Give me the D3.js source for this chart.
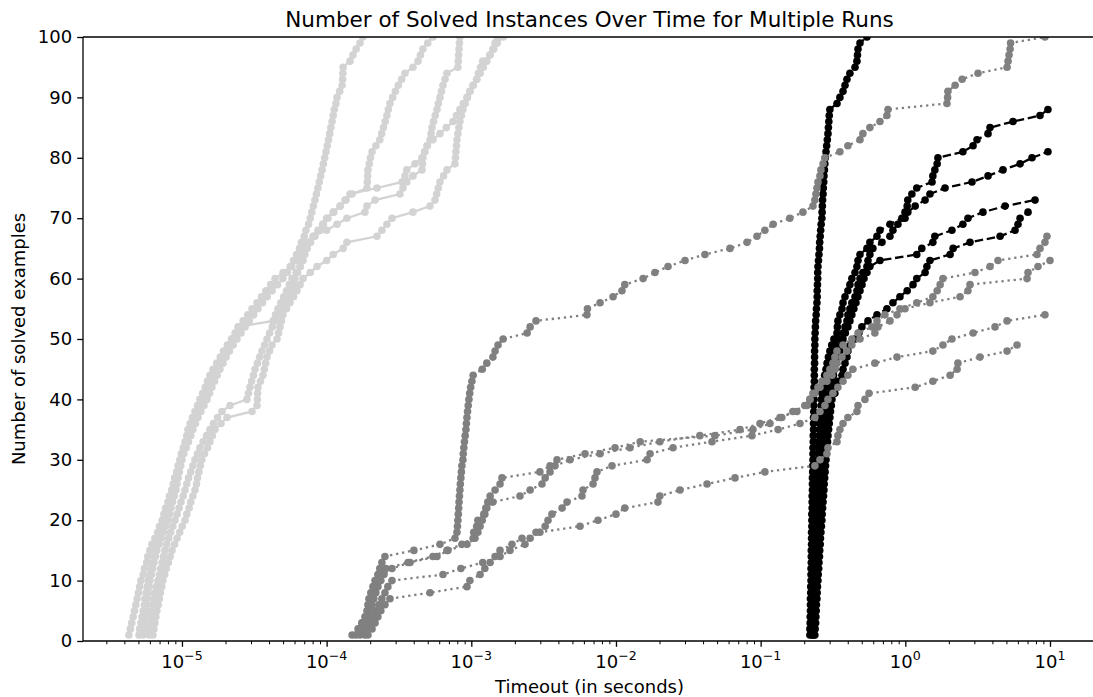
<!DOCTYPE html>
<html>
<head>
<meta charset="utf-8">
<script src="https://cdn.jsdelivr.net/npm/d3@7"></script>
<style>
body { margin: 0; background: #fff; }
svg { display: block; }
text { font-family: "DejaVu Sans", sans-serif; fill: #000; }
</style>
</head>
<body>
<div id="chart"></div>
<script>
// Solve times for each run; the n-th entry is the time at which n instances were solved.
// Light grey runs (microseconds)
var lightRun1 = [4.3,4.4,4.5,4.6,4.7,4.8,4.9,5.0,5.1,5.2,
  5.4,5.5,5.7,5.8,6.0,6.2,6.5,6.8,7.0,7.3,
  7.5,7.7,8.0,8.2,8.5,8.7,8.9,9.2,9.4,9.7,
  9.9,10.2,10.5,10.8,11.0,11.4,11.8,12.3,12.8,13.3,
  13.9,14.5,15.0,15.6,16.4,17.4,18.4,19.4,20.6,22,
  23.5,25,26.5,28.5,30.5,33,35.5,38,41,44,
  50,56,59,62,65,67,70,72,75,77,
  79,81,83,85,87,89,91,93,95,97,
  99,101,103,105,107,109,111,113,116,118,
  123,128,129,129.5,130,145,152,160,170,178];
var lightRun2 = [5.05,5.1,5.2,5.3,5.4,5.5,5.55,5.65,5.75,5.85,
  6.0,6.15,6.3,6.45,6.6,6.8,7.0,7.2,7.4,7.6,
  7.8,8.0,8.2,8.45,8.7,8.9,9.1,9.3,9.5,9.7,
  10,10.3,10.7,11,11.4,11.9,12.4,12.9,13.4,14,
  14.6,15.2,15.8,16.5,17.2,18,18.9,19.9,21,22.2,
  23.3,24.4,42.6,44.3,46.1,48.2,50.5,52.8,55.2,57.6,
  61.5,65.4,68,70.6,73.3,77.5,82,87.2,94,102,
  112,124,136,150,190,191,192,193,197,201,
  206,219,233,240,247,254,261,267,274,286,
  299,313,330,348,395,428,445,463,500,543];
var lightRun3 = [5.38,5.45,5.5,5.57,5.64,5.7,5.77,5.85,5.93,6.01,
  6.15,6.28,6.42,6.56,6.71,6.95,7.2,7.45,7.7,8.0,
  8.2,8.4,8.6,8.85,9.1,9.25,9.4,9.6,9.8,10,
  10.3,10.7,11.1,11.5,11.9,12.4,12.9,13.5,14.2,14.9,
  15.5,16.1,16.8,17.5,18.3,19.2,20.2,21.3,22.6,24,
  25.6,27.3,29.2,31.3,33.5,36,38.8,42,45.8,49.9,
  53.5,57.5,61.8,66.2,70.8,76.8,83,90,95,100,
  111,124,134,145,223,332,348,358,408,456,
  475,497,518,527,535,548,563,579,592,607,
  622,637,658,679,808,812,817,822,828,834];
var lightRun4 = [5.92,5.98,6.05,6.12,6.2,6.3,6.4,6.5,6.65,6.83,
  6.98,7.13,7.3,7.45,7.63,7.85,8.1,8.35,8.65,8.95,
  9.25,9.55,9.85,10.2,10.5,10.8,11.1,11.5,11.9,12.3,
  12.8,13.3,14,14.8,15.6,16.5,17.6,18.9,21.5,28.1,
  28.8,29.5,30.3,31.2,32,33.2,34.4,35.7,37.2,38.7,
  40.3,42.1,44,46.3,48.8,51.5,54.5,57.6,59,60.4,
  63,65.8,68.7,70.2,71.8,73.3,80.5,100,118,138,
  184,190,216,321,337,358,395,456,460,463,
  478,494,543,607,672,747,790,834,880,933,
  980,1030,1090,1150,1210,1280,1340,1410,1460,1510];
var lightRun5 = [6.3,6.4,6.5,6.6,6.71,6.85,6.98,7.1,7.25,7.39,
  7.6,7.8,8.05,8.3,8.53,8.9,9.25,9.65,10.05,10.5,
  10.8,11.2,11.5,11.9,12.3,12.6,12.8,13.1,13.4,13.7,
  14.3,15,15.6,16.2,16.9,18.6,20.5,30.5,33,33.2,
  33.3,33.5,34.9,36.3,37.1,37.9,38.7,40.3,41.9,45.4,
  46.5,47.6,48.7,49.9,52.8,55.8,59,62.4,65.5,68.7,
  77,85.8,100,111,130,138,223,241,261,283,
  395,518,561,576,591,607,643,679,771,777,
  783,790,796,808,821,834,854,875,907,941,
  978,1030,1090,1120,1160,1200,1350,1430,1510,1660];

// Grey runs (seconds)
var greyRun1 = [1.50e-4,1.65e-4,1.75e-4,1.84e-4,1.90e-4,1.93e-4,1.96e-4,2.02e-4,2.09e-4,2.16e-4,
  2.26e-4,2.33e-4,2.41e-4,2.53e-4,4.01e-4,6.07e-4,7.71e-4,7.96e-4,8.02e-4,8.08e-4,
  8.13e-4,8.18e-4,8.23e-4,8.28e-4,8.34e-4,8.40e-4,8.47e-4,8.54e-4,8.61e-4,8.75e-4,
  8.80e-4,8.88e-4,8.97e-4,9.07e-4,9.18e-4,9.25e-4,9.33e-4,9.42e-4,9.52e-4,9.63e-4,
  9.75e-4,9.90e-4,1.01e-3,1.03e-3,1.19e-3,1.28e-3,1.41e-3,1.46e-3,1.53e-3,1.66e-3,
  2.43e-3,2.55e-3,2.80e-3,6.30e-3,6.35e-3,7.76e-3,9.55e-3,1.10e-2,1.15e-2,1.54e-2,
  1.86e-2,2.29e-2,3.00e-2,4.12e-2,6.14e-2,8.05e-2,9.43e-2,0.107,0.122,0.159,
  0.196,0.230,0.237,0.241,0.245,0.249,0.257,0.261,0.270,0.278,
  0.353,0.401,0.486,0.509,0.569,0.668,0.746,0.759,1.94,1.96,
  1.97,2.21,2.47,3.18,5.05,5.13,5.21,5.30,5.34,9.23];
var greyRun2 = [1.59e-4,1.70e-4,1.78e-4,1.87e-4,1.93e-4,1.99e-4,2.06e-4,2.12e-4,2.19e-4,2.26e-4,
  2.37e-4,2.57e-4,3.65e-4,5.43e-4,6.79e-4,8.61e-4,1.03e-3,1.04e-3,1.09e-3,1.11e-3,
  1.24e-3,1.28e-3,1.30e-3,1.35e-3,1.46e-3,1.58e-3,1.63e-3,2.98e-3,3.50e-3,3.91e-3,
  6.11e-3,9.85e-3,1.47e-2,4.83e-2,8.85e-2,0.116,0.140,0.167,0.209,0.219,
  0.230,0.249,0.265,0.287,0.301,0.316,0.326,0.337,0.371,0.427,
  0.471,0.588,0.637,0.723,0.918,1.20,1.55,1.66,1.74,1.82,
  3.03,3.85,4.37,8.13,8.53,9.23,9.53];
var greyRun3 = [1.70e-4,1.78e-4,1.87e-4,1.93e-4,1.99e-4,2.06e-4,2.12e-4,2.19e-4,2.26e-4,2.37e-4,
  2.49e-4,2.83e-4,3.77e-4,5.79e-4,6.89e-4,9.33e-4,1.06e-3,1.11e-3,1.15e-3,1.19e-3,
  1.22e-3,1.26e-3,1.41e-3,2.17e-3,2.55e-3,3.08e-3,3.24e-3,3.50e-3,3.79e-3,4.81e-3,
  7.76e-3,1.25e-2,2.01e-2,3.80e-2,7.20e-2,9.90e-2,0.136,0.178,0.202,0.219,
  0.237,0.257,0.287,0.311,0.326,0.337,0.365,0.395,0.427,0.486,
  0.616,0.647,0.783,0.876,0.995,1.48,2.39,2.71,2.80,6.94,
  7.05,8.26,10.0];
var greyRun4 = [1.84e-4,1.93e-4,2.02e-4,2.12e-4,2.19e-4,2.30e-4,2.41e-4,2.53e-4,2.65e-4,2.83e-4,
  6.37e-4,8.47e-4,1.20e-3,1.58e-3,1.85e-3,2.35e-3,2.55e-3,2.80e-3,3.24e-3,3.39e-3,
  3.61e-3,4.24e-3,4.59e-3,5.82e-3,5.92e-3,6.94e-3,7.16e-3,7.39e-3,9.39e-3,1.64e-2,
  1.72e-2,2.48e-2,4.61e-2,8.71e-2,0.132,0.187,0.237,0.257,0.278,0.292,
  0.316,0.342,0.371,0.401,0.434,0.616,0.876,1.55,1.82,2.10,
  2.94,4.17,5.05,9.23];
var greyRun5 = [1.93e-4,2.06e-4,2.16e-4,2.26e-4,2.37e-4,2.53e-4,2.74e-4,5.18e-4,9.33e-4,9.78e-4,
  1.15e-3,1.24e-3,1.35e-3,1.46e-3,1.58e-3,1.91e-3,2.24e-3,2.98e-3,5.64e-3,7.51e-3,
  1.00e-2,1.15e-2,1.95e-2,2.01e-2,2.77e-2,4.26e-2,6.65e-2,0.107,0.237,0.257,
  0.287,0.292,0.337,0.342,0.353,0.371,0.401,0.463,0.471,0.526,
  0.561,1.17,1.55,2.04,2.28,2.31,3.28,5.05,5.92];

// Black runs (seconds)
var blackRun1 = [0.219,0.219,0.220,0.220,0.221,0.221,0.221,0.222,0.222,0.223,
  0.223,0.223,0.224,0.224,0.224,0.225,0.225,0.225,0.226,0.226,
  0.226,0.227,0.227,0.227,0.228,0.228,0.228,0.229,0.229,0.230,
  0.230,0.230,0.231,0.231,0.232,0.232,0.232,0.233,0.233,0.234,
  0.234,0.234,0.235,0.235,0.235,0.236,0.236,0.236,0.237,0.237,
  0.238,0.239,0.240,0.242,0.243,0.245,0.246,0.246,0.247,0.248,
  0.248,0.249,0.251,0.253,0.255,0.256,0.258,0.260,0.262,0.265,
  0.266,0.267,0.268,0.270,0.271,0.273,0.274,0.276,0.278,0.280,
  0.283,0.286,0.289,0.292,0.294,0.296,0.298,0.301,0.337,0.353,
  0.371,0.383,0.395,0.414,0.449,0.463,0.467,0.471,0.486,0.543];
var blackRun2 = [0.226,0.226,0.226,0.227,0.227,0.228,0.228,0.229,0.229,0.230,
  0.230,0.231,0.231,0.232,0.233,0.234,0.234,0.235,0.236,0.237,
  0.238,0.239,0.240,0.241,0.242,0.243,0.245,0.246,0.247,0.249,
  0.250,0.251,0.252,0.254,0.255,0.257,0.259,0.261,0.262,0.263,
  0.265,0.268,0.272,0.277,0.283,0.288,0.294,0.301,0.310,0.321,
  0.337,0.339,0.342,0.353,0.365,0.371,0.383,0.401,0.414,0.427,
  0.449,0.463,0.471,0.486,0.543,0.569,0.637,0.668,0.783,0.947,
  0.995,1.03,1.04,1.11,1.20,1.53,1.55,1.60,1.66,1.68,
  2.50,2.94,3.13,3.73,3.85,5.55,8.53,9.68];
var blackRun3 = [0.230,0.230,0.231,0.231,0.232,0.233,0.234,0.235,0.236,0.237,
  0.238,0.238,0.239,0.240,0.241,0.241,0.242,0.243,0.244,0.245,
  0.246,0.247,0.248,0.249,0.250,0.251,0.253,0.254,0.255,0.257,
  0.258,0.259,0.260,0.262,0.263,0.265,0.267,0.270,0.271,0.274,
  0.278,0.282,0.287,0.292,0.297,0.303,0.309,0.316,0.328,0.342,
  0.371,0.383,0.395,0.401,0.414,0.427,0.449,0.463,0.471,0.486,
  0.509,0.543,0.552,0.569,0.597,0.689,0.783,0.821,0.889,0.995,
  1.04,1.17,1.37,1.48,1.88,2.89,3.73,4.73,6.21,7.51,9.68];
var blackRun4 = [0.234,0.234,0.235,0.236,0.237,0.238,0.239,0.241,0.242,0.244,
  0.245,0.246,0.247,0.248,0.249,0.250,0.252,0.253,0.255,0.257,
  0.258,0.259,0.260,0.262,0.263,0.264,0.265,0.267,0.268,0.270,
  0.271,0.273,0.276,0.279,0.283,0.286,0.289,0.293,0.297,0.301,
  0.304,0.308,0.313,0.319,0.326,0.334,0.342,0.353,0.362,0.371,
  0.385,0.401,0.414,0.427,0.441,0.456,0.470,0.486,0.502,0.518,
  0.543,0.569,0.668,1.20,1.30,1.55,1.60,2.10,2.50,2.71,
  3.44,4.89,7.88];
var blackRun5 = [0.237,0.238,0.240,0.241,0.242,0.243,0.245,0.246,0.247,0.249,
  0.250,0.252,0.253,0.255,0.256,0.258,0.259,0.261,0.263,0.265,
  0.266,0.268,0.270,0.272,0.274,0.275,0.277,0.279,0.281,0.283,
  0.285,0.287,0.290,0.292,0.295,0.298,0.301,0.304,0.308,0.311,
  0.326,0.337,0.342,0.365,0.371,0.383,0.395,0.401,0.414,0.449,
  0.478,0.501,0.552,0.637,0.746,0.821,0.918,1.03,1.13,1.20,
  1.37,1.41,1.48,2.04,2.14,2.80,4.52,5.73,6.01,6.21,7.05];

// Axis ticks
var xMajorTicks = [1e-5, 1e-4, 1e-3, 1e-2, 1e-1, 1, 10];
var xTickExponents = ["\u22125", "\u22124", "\u22123", "\u22122", "\u22121", "0", "1"];
var yTicks = [0, 10, 20, 30, 40, 50, 60, 70, 80, 90, 100];

var width = 1093;
var height = 697;
var plotLeft = 83, plotRight = 1096, plotTop = 37, plotBottom = 641;

var svg = d3.select("#chart")
    .append("svg")
    .attr("width", width)
    .attr("height", height);

var x = d3.scaleLog()
    .domain([2.07e-6, 20.8])
    .range([plotLeft, plotRight]);

var y = d3.scaleLinear()
    .domain([0, 100])
    .range([plotBottom, plotTop]);

svg.append("clipPath")
    .attr("id", "plot-clip")
    .append("rect")
    .attr("x", plotLeft)
    .attr("y", plotTop)
    .attr("width", plotRight - plotLeft)
    .attr("height", plotBottom - plotTop);

var plot = svg.append("g").attr("clip-path", "url(#plot-clip)");

var line = d3.line()
    .x(function(d) { return x(d[0]); })
    .y(function(d) { return y(d[1]); });

function drawRun(times, color, dash) {
    var pts = times.map(function(t, i) { return [t, i + 1]; });
    plot.append("path")
        .datum(pts)
        .attr("d", line)
        .attr("fill", "none")
        .attr("stroke", color)
        .attr("stroke-width", 2.3)
        .attr("stroke-dasharray", dash);
    plot.append("g")
        .selectAll("circle")
        .data(pts)
        .enter()
        .append("circle")
        .attr("cx", function(d) { return x(d[0]); })
        .attr("cy", function(d) { return y(d[1]); })
        .attr("r", 3.8)
        .attr("fill", color);
}

var blackRuns = [blackRun1, blackRun2, blackRun3, blackRun4, blackRun5];
var greyRuns = [greyRun1, greyRun2, greyRun3, greyRun4, greyRun5];
var lightRuns = [lightRun1, lightRun2, lightRun3, lightRun4, lightRun5];

blackRuns.forEach(function(r) { drawRun(r, "#000000", "8.5,3.7"); });
greyRuns.forEach(function(r) { drawRun(r, "#808080", "2.3,3.8"); });
lightRuns.forEach(function(r) {
    drawRun(r.map(function(us) { return us * 1e-6; }), "#d3d3d3", null);
});

// Minor ticks on the log axis
var xMinorTicks = [];
for (var e = -6; e <= 1; e++) {
    for (var m = 2; m <= 9; m++) {
        var v = m * Math.pow(10, e);
        if (v > x.domain()[0] && v < x.domain()[1]) xMinorTicks.push(v);
    }
}

var xMinor = svg.append("g")
    .attr("transform", "translate(0," + plotBottom + ")")
    .call(d3.axisBottom(x).tickValues(xMinorTicks).tickSize(3.3).tickFormat(""));
xMinor.select(".domain").remove();
xMinor.selectAll(".tick line").attr("stroke-width", 1);

var xMajor = svg.append("g")
    .attr("transform", "translate(0," + plotBottom + ")")
    .call(d3.axisBottom(x).tickValues(xMajorTicks).tickSize(5.8).tickFormat(""));
xMajor.select(".domain").remove();
xMajor.selectAll(".tick line").attr("stroke-width", 1.3);
xMajor.selectAll(".tick text").remove();

xMajorTicks.forEach(function(t, i) {
    var label = svg.append("text")
        .attr("x", x(t))
        .attr("y", 668)
        .attr("text-anchor", "middle")
        .style("font-size", "18px");
    label.append("tspan").text("10");
    label.append("tspan")
        .attr("dy", -8)
        .style("font-size", "12.6px")
        .text(xTickExponents[i]);
});

var yAxis = svg.append("g")
    .attr("transform", "translate(" + plotLeft + ",0)")
    .call(d3.axisLeft(y).tickValues(yTicks).tickSize(5.8).tickPadding(5));
yAxis.select(".domain").remove();
yAxis.selectAll(".tick line").attr("stroke-width", 1.3);
yAxis.selectAll(".tick text")
    .style("font-size", "18px")
    .style("font-family", "'DejaVu Sans', sans-serif");

// Spines: left, bottom, top
svg.append("line").attr("x1", plotLeft).attr("x2", plotLeft).attr("y1", plotTop).attr("y2", plotBottom)
    .attr("stroke", "#000").attr("stroke-width", 1.3);
svg.append("line").attr("x1", plotLeft).attr("x2", plotRight).attr("y1", plotBottom).attr("y2", plotBottom)
    .attr("stroke", "#000").attr("stroke-width", 1.3);
svg.append("line").attr("x1", plotLeft).attr("x2", plotRight).attr("y1", plotTop).attr("y2", plotTop)
    .attr("stroke", "#000").attr("stroke-width", 1.3);

svg.append("text")
    .attr("x", (plotLeft + plotRight) / 2)
    .attr("y", 27)
    .attr("text-anchor", "middle")
    .style("font-size", "21.5px")
    .text("Number of Solved Instances Over Time for Multiple Runs");

svg.append("text")
    .attr("x", (plotLeft + plotRight) / 2)
    .attr("y", 693)
    .attr("text-anchor", "middle")
    .style("font-size", "18px")
    .text("Timeout (in seconds)");

svg.append("text")
    .attr("transform", "translate(25," + (plotTop + plotBottom) / 2 + ") rotate(-90)")
    .attr("text-anchor", "middle")
    .style("font-size", "18px")
    .text("Number of solved examples");
</script>
</body>
</html>
